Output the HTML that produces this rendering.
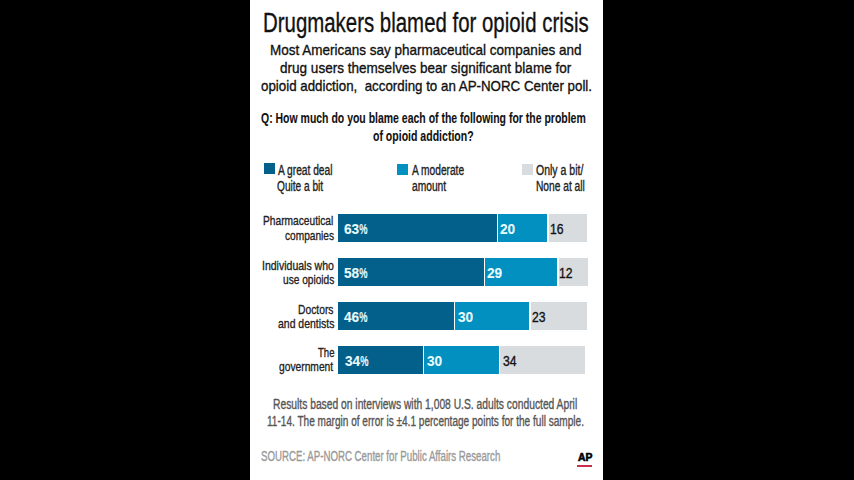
<!DOCTYPE html>
<html><head><meta charset="utf-8"><style>
html,body{margin:0;padding:0;background:#000;width:854px;height:480px;overflow:hidden}
#p{position:absolute;left:250px;top:0;width:353px;height:480px;background:#fff}
.t{position:absolute;white-space:nowrap;font-family:"Liberation Sans",sans-serif;transform-origin:0 0;-webkit-text-stroke:0.35px currentColor}
.b{position:absolute}
.sw{position:absolute;width:11px;height:11px}
</style></head><body>
<div id="p"></div>
<div class="b" style="left:338px;top:214px;width:159px;height:28px;background:#03608a"></div>
<div class="b" style="left:498px;top:214px;width:49px;height:28px;background:#0290c0"></div>
<div class="b" style="left:549px;top:214px;width:38px;height:28px;background:#d8dcdf"></div>
<div class="b" style="left:338px;top:258px;width:146px;height:28px;background:#03608a"></div>
<div class="b" style="left:485px;top:258px;width:72px;height:28px;background:#0290c0"></div>
<div class="b" style="left:559px;top:258px;width:29px;height:28px;background:#d8dcdf"></div>
<div class="b" style="left:338px;top:302px;width:116px;height:28px;background:#03608a"></div>
<div class="b" style="left:455px;top:302px;width:74px;height:28px;background:#0290c0"></div>
<div class="b" style="left:531px;top:302px;width:56px;height:28px;background:#d8dcdf"></div>
<div class="b" style="left:338px;top:346px;width:85px;height:28px;background:#03608a"></div>
<div class="b" style="left:424px;top:346px;width:75px;height:28px;background:#0290c0"></div>
<div class="b" style="left:500px;top:346px;width:85px;height:28px;background:#d8dcdf"></div>
<div class="t" style="left:263.47px;top:7.51px;font-size:28.36px;line-height:28.36px;font-weight:400;color:#111;transform:scaleX(0.7200)">Drugmakers blamed for opioid crisis</div>
<div class="t" style="left:270.32px;top:41.71px;font-size:15.39px;line-height:15.39px;font-weight:400;color:#111;transform:scaleX(0.8781)">Most Americans say pharmaceutical companies and</div>
<div class="t" style="left:280.16px;top:60.21px;font-size:15.39px;line-height:15.39px;font-weight:400;color:#111;transform:scaleX(0.8807)">drug users themselves bear significant blame for</div>
<div class="t" style="left:260.87px;top:78.41px;font-size:15.39px;line-height:15.39px;font-weight:400;color:#111;transform:scaleX(0.8665)">opioid addiction,&nbsp; according to an AP-NORC Center poll.</div>
<div class="t" style="left:261.38px;top:109.71px;font-size:15.48px;line-height:15.48px;font-weight:700;color:#111;transform:scaleX(0.6772);-webkit-text-stroke:0.1px currentColor">Q: How much do you blame each of the following for the problem</div>
<div class="t" style="left:373.48px;top:128.41px;font-size:15.48px;line-height:15.48px;font-weight:700;color:#111;transform:scaleX(0.6808);-webkit-text-stroke:0.1px currentColor">of opioid addiction?</div>
<div class="t" style="left:278.00px;top:164.41px;font-size:13.92px;line-height:13.92px;font-weight:400;color:#222;transform:scaleX(0.7335)">A great deal</div>
<div class="t" style="left:277.49px;top:179.71px;font-size:13.92px;line-height:13.92px;font-weight:400;color:#222;transform:scaleX(0.7281)">Quite a bit</div>
<div class="t" style="left:412.00px;top:164.41px;font-size:13.92px;line-height:13.92px;font-weight:400;color:#222;transform:scaleX(0.7327)">A moderate</div>
<div class="t" style="left:411.59px;top:179.70px;font-size:13.92px;line-height:13.92px;font-weight:400;color:#222;transform:scaleX(0.7360)">amount</div>
<div class="t" style="left:536.27px;top:164.41px;font-size:13.92px;line-height:13.92px;font-weight:400;color:#222;transform:scaleX(0.7556)">Only a bit/</div>
<div class="t" style="left:536.18px;top:179.70px;font-size:13.92px;line-height:13.92px;font-weight:400;color:#222;transform:scaleX(0.7340)">None at all</div>
<div class="t" style="left:263.38px;top:214.41px;font-size:13.68px;line-height:13.68px;font-weight:400;color:#222;transform:scaleX(0.7460)">Pharmaceutical</div>
<div class="t" style="left:285.39px;top:228.81px;font-size:13.68px;line-height:13.68px;font-weight:400;color:#222;transform:scaleX(0.7415)">companies</div>
<div class="t" style="left:261.55px;top:258.91px;font-size:13.68px;line-height:13.68px;font-weight:400;color:#222;transform:scaleX(0.7689)">Individuals who</div>
<div class="t" style="left:283.19px;top:273.31px;font-size:13.68px;line-height:13.68px;font-weight:400;color:#222;transform:scaleX(0.7411)">use opioids</div>
<div class="t" style="left:298.48px;top:303.11px;font-size:13.68px;line-height:13.68px;font-weight:400;color:#222;transform:scaleX(0.7527)">Doctors</div>
<div class="t" style="left:277.98px;top:317.32px;font-size:13.68px;line-height:13.68px;font-weight:400;color:#222;transform:scaleX(0.7651)">and dentists</div>
<div class="t" style="left:317.51px;top:346.10px;font-size:13.68px;line-height:13.68px;font-weight:400;color:#222;transform:scaleX(0.7000)">The</div>
<div class="t" style="left:278.99px;top:359.81px;font-size:13.68px;line-height:13.68px;font-weight:400;color:#222;transform:scaleX(0.7504)">government</div>
<div class="t" style="left:273.48px;top:397.80px;font-size:13.97px;line-height:13.97px;font-weight:400;color:#555;transform:scaleX(0.7364)">Results based on interviews with 1,008 U.S. adults conducted April</div>
<div class="t" style="left:267.09px;top:414.72px;font-size:13.97px;line-height:13.97px;font-weight:400;color:#555;transform:scaleX(0.7209)">11-14. The margin of error is ±4.1 percentage points for the full sample.</div>
<div class="t" style="left:577.69px;top:452.61px;font-size:10.14px;line-height:10.14px;font-weight:700;color:#000;transform:scaleX(1.0231);-webkit-text-stroke:0.6px #000">AP</div>
<div class="t" style="left:260.62px;top:448.71px;font-size:14.11px;line-height:14.11px;font-weight:400;color:#999;transform:scaleX(0.6863)">SOURCE: AP-NORC Center for Public Affairs Research</div>
<div class="t" style="left:344.05px;top:220.71px;font-size:15.29px;line-height:15.29px;font-weight:700;color:#e8fbff;transform:scaleX(0.8932);-webkit-text-stroke:0.1px currentColor">63<span style="display:inline-block;transform:scaleX(0.68);transform-origin:0 0">%</span></div>
<div class="t" style="left:499.99px;top:220.71px;font-size:15.29px;line-height:15.29px;font-weight:700;color:#e8fbff;transform:scaleX(0.8932);-webkit-text-stroke:0.1px currentColor">20</div>
<div class="t" style="left:550.28px;top:221.51px;font-size:14.57px;line-height:14.57px;font-weight:400;color:#111;transform:scaleX(0.8353)">16</div>
<div class="t" style="left:344.39px;top:264.81px;font-size:15.29px;line-height:15.29px;font-weight:700;color:#e8fbff;transform:scaleX(0.8932);-webkit-text-stroke:0.1px currentColor">58<span style="display:inline-block;transform:scaleX(0.68);transform-origin:0 0">%</span></div>
<div class="t" style="left:486.89px;top:264.81px;font-size:15.29px;line-height:15.29px;font-weight:700;color:#e8fbff;transform:scaleX(0.8932);-webkit-text-stroke:0.1px currentColor">29</div>
<div class="t" style="left:559.03px;top:265.60px;font-size:14.57px;line-height:14.57px;font-weight:400;color:#111;transform:scaleX(0.8353)">12</div>
<div class="t" style="left:343.93px;top:308.71px;font-size:15.29px;line-height:15.29px;font-weight:700;color:#e8fbff;transform:scaleX(0.8932);-webkit-text-stroke:0.1px currentColor">46<span style="display:inline-block;transform:scaleX(0.68);transform-origin:0 0">%</span></div>
<div class="t" style="left:457.93px;top:308.71px;font-size:15.29px;line-height:15.29px;font-weight:700;color:#e8fbff;transform:scaleX(0.8932);-webkit-text-stroke:0.1px currentColor">30</div>
<div class="t" style="left:532.29px;top:309.51px;font-size:14.57px;line-height:14.57px;font-weight:400;color:#111;transform:scaleX(0.8353)">23</div>
<div class="t" style="left:344.53px;top:352.81px;font-size:15.29px;line-height:15.29px;font-weight:700;color:#e8fbff;transform:scaleX(0.8932);-webkit-text-stroke:0.1px currentColor">34<span style="display:inline-block;transform:scaleX(0.68);transform-origin:0 0">%</span></div>
<div class="t" style="left:427.23px;top:352.81px;font-size:15.29px;line-height:15.29px;font-weight:700;color:#e8fbff;transform:scaleX(0.8932);-webkit-text-stroke:0.1px currentColor">30</div>
<div class="t" style="left:503.26px;top:353.60px;font-size:14.57px;line-height:14.57px;font-weight:400;color:#111;transform:scaleX(0.8353)">34</div>
<div class="sw" style="left:264px;top:163px;background:#03608a"></div>
<div class="sw" style="left:397px;top:164px;background:#0290c0"></div>
<div class="sw" style="left:522px;top:164px;background:#d8dcdf"></div>
<div class="b" style="left:577px;top:465px;width:15px;height:2px;background:#c6304c"></div>
</body></html>
